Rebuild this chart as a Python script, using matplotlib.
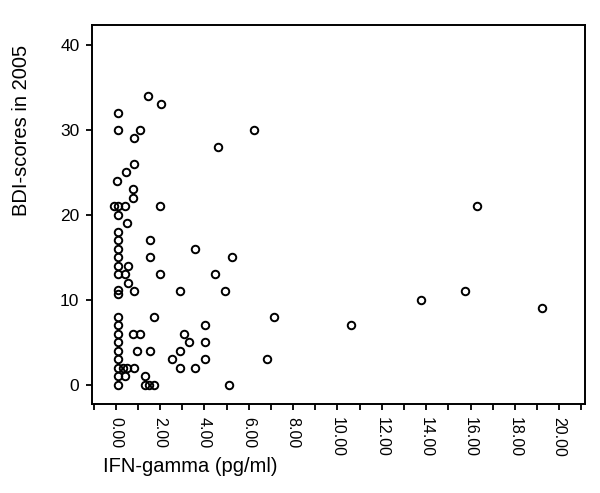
import numpy as np
import matplotlib
matplotlib.use("Agg")
import matplotlib.pyplot as plt
from matplotlib.ticker import MultipleLocator

plt.rcParams['font.family'] = ['Liberation Sans', 'DejaVu Sans']

# IFN-gamma (pg/ml) and BDI scores
ifn_gamma = [1.46, 2.04, 0.09, 0.09, 1.11, 6.25, 0.83, 4.61, 0.84, 0.46,
             0.07, 0.80, 0.80, -0.08, 0.12, 0.43, 2.01, 16.31, 0.09, 0.52,
             0.09, 0.09, 1.56, 0.09, 3.58, 0.09, 1.53, 5.26, 0.09, 0.55,
             0.09, 0.43, 2.01, 4.49, 0.55, 0.09, 0.09, 0.81, 2.90, 4.92,
             15.76, 13.77, 19.24, 0.09, 1.71, 7.13, 0.09, 4.03, 10.63, 0.09,
             0.80, 1.09, 3.07, 0.09, 3.29, 4.03, 0.09, 0.94, 1.56, 2.90,
             0.09, 2.56, 4.03, 6.84, 0.09, 0.32, 0.50, 0.81, 2.90, 3.58,
             0.09, 0.43, 1.31, 0.09, 1.31, 1.52, 1.71, 5.10]
bdi_2005 = [34, 33, 32, 30, 30, 30, 29, 28, 26, 25,
            24, 23, 22, 21, 21, 21, 21, 21, 20, 19,
            18, 17, 17, 16, 16, 15, 15, 15, 14, 14,
            13, 13, 13, 13, 12, 11.2, 10.7, 11, 11, 11,
            11, 10, 9, 8, 8, 8, 7, 7, 7, 6,
            6, 6, 6, 5, 5, 5, 4, 4, 4, 4,
            3, 3, 3, 3, 2, 2, 2, 2, 2, 2,
            1, 1, 1, 0, 0, 0, 0, 0]

x_ticks = np.arange(0, 21, 2)
x_tick_labels = ["%.2f" % v for v in x_ticks]
y_ticks = [0, 10, 20, 30, 40]

fig = plt.figure(figsize=(6, 4.93), dpi=100)
ax = fig.add_axes([0.1533, 0.1805, 0.822, 0.7688])

ax.plot(ifn_gamma, bdi_2005, linestyle='none', marker='o', ms=5.4,
        mfc='none', mec='black', mew=1.4)

ax.set_xlim(-1.07, 21.17)
ax.set_ylim(-2.24, 42.35)

ax.set_xticks(x_ticks)
ax.set_xticklabels(x_tick_labels, rotation=270, fontsize=11.5)
ax.xaxis.set_minor_locator(MultipleLocator(1))
ax.set_yticks(y_ticks)
ax.set_yticklabels([str(v) for v in y_ticks], fontsize=12.5)

ax.tick_params(which='both', direction='out', length=4, width=1.3,
               color='black', pad=5)
for s in ax.spines.values():
    s.set_linewidth(1.4)

ax.set_xlabel("IFN-gamma (pg/ml)", fontsize=14.5, ha='left', va='center')
ax.xaxis.set_label_coords(0.022, -0.166)
ax.set_ylabel("BDI-scores in 2005", fontsize=14.5, ha='center', va='center')
ax.yaxis.set_label_coords(-0.142, 0.723)

fig.savefig("out.png", dpi=100)
